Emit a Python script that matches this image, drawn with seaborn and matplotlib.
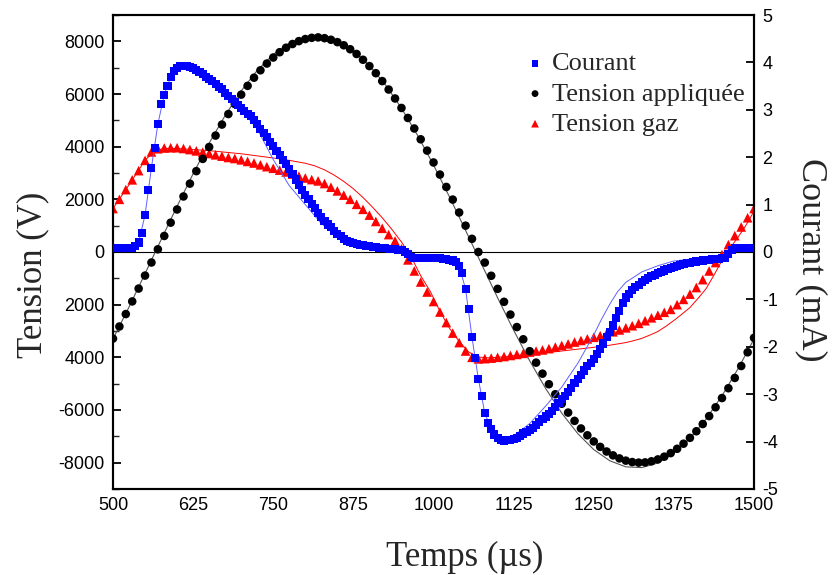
import numpy as np
import pandas as pd
import matplotlib
matplotlib.use("Agg")
import matplotlib.pyplot as plt
import seaborn as sns

# ---------------- data ----------------
# Tension appliquée (V), every 10 µs from 500 to 1500
t_app = list(range(500, 1501, 10))
v_app = [-3290, -2830, -2358, -1877, -1389, -896, -399, 102, 609, 1114,
         1615, 2109, 2596, 3071, 3536, 3987, 4421, 4839, 5239, 5619,
         5976, 6310, 6619, 6901, 7157, 7386, 7587, 7757, 7898, 8008,
         8087, 8134, 8150, 8120, 8060, 7970, 7850, 7700, 7520, 7300,
         7060, 6790, 6490, 6170, 5830, 5470, 5090, 4690, 4280, 3850,
         3400, 2940, 2470, 1990, 1500, 1000, 500, 0, -402, -903,
         -1400, -1892, -2377, -2851, -3315, -3766, -4202, -4621, -5022, -5402,
         -5762, -6099, -6413, -6702, -6961, -7195, -7401, -7577, -7723, -7839,
         -7924, -7978, -7999, -7990, -7949, -7877, -7773, -7638, -7474, -7280,
         -7058, -6808, -6533, -6232, -5898, -5547, -5174, -4783, -4330, -3810,
         -3260]

# Tension gaz (V), every 10 µs
t_gaz = list(range(500, 1501, 10))
v_gaz = [1650, 2000, 2370, 2740, 3090, 3480, 3800, 3920, 3950, 3960,
         3960, 3930, 3890, 3840, 3790, 3740, 3690, 3640, 3590, 3550,
         3500, 3440, 3380, 3310, 3240, 3180, 3110, 3040, 2960, 2880,
         2810, 2750, 2700, 2600, 2460, 2320, 2160, 2000, 1810, 1620,
         1400, 1160, 900, 660, 420, 120, -300, -720, -1140, -1520,
         -1880, -2280, -2680, -3080, -3440, -3760, -4000, -4060, -4050, -4030,
         -4000, -3970, -3930, -3890, -3850, -3800, -3760, -3720, -3670, -3610,
         -3550, -3490, -3420, -3360, -3300, -3240, -3180, -3100, -3030, -2960,
         -2880, -2800, -2710, -2610, -2500, -2400, -2290, -2180, -2000, -1800,
         -1600, -1350, -1050, -720, -400, -100, 280, 620, 950, 1300,
         1650]

# Courant (mA), every 5 µs
t_cour = list(range(500, 1501, 5))
i_cour = [0.08, 0.08, 0.08, 0.08, 0.08, 0.08, 0.09, 0.12, 0.20, 0.40,
          0.78, 1.30, 1.78, 2.20, 2.70, 3.12, 3.32, 3.50, 3.69, 3.82,
          3.89, 3.92, 3.93, 3.93, 3.91, 3.88, 3.84, 3.80, 3.75, 3.70,
          3.65, 3.60, 3.55, 3.49, 3.43, 3.36, 3.30, 3.23, 3.16, 3.10,
          3.04, 2.98, 2.92, 2.86, 2.79, 2.70, 2.60, 2.51, 2.42, 2.33,
          2.24, 2.14, 2.04, 1.95, 1.85, 1.75, 1.64, 1.53, 1.42, 1.31,
          1.21, 1.11, 1.02, 0.93, 0.83, 0.74, 0.65, 0.58, 0.52, 0.45,
          0.38, 0.33, 0.28, 0.24, 0.21, 0.19, 0.17, 0.15, 0.14, 0.13,
          0.12, 0.11, 0.10, 0.09, 0.08, 0.08, 0.07, 0.07, 0.06, 0.05,
          0.04, 0.00, -0.05, -0.10, -0.12, -0.13, -0.13, -0.12, -0.12, -0.12,
          -0.12, -0.12, -0.13, -0.14, -0.15, -0.16, -0.18, -0.21, -0.30, -0.45,
          -0.78, -1.20, -1.80, -2.23, -2.68, -3.03, -3.40, -3.60, -3.73, -3.85,
          -3.93, -3.97, -3.98, -3.97, -3.96, -3.94, -3.92, -3.88, -3.83, -3.79,
          -3.75, -3.71, -3.65, -3.58, -3.52, -3.47, -3.42, -3.36, -3.27, -3.18,
          -3.10, -3.03, -2.96, -2.86, -2.77, -2.68, -2.59, -2.50, -2.40, -2.34,
          -2.25, -2.15, -2.05, -1.93, -1.80, -1.68, -1.55, -1.40, -1.25, -1.08,
          -0.96, -0.88, -0.80, -0.74, -0.69, -0.64, -0.59, -0.55, -0.51, -0.48,
          -0.45, -0.42, -0.39, -0.36, -0.34, -0.32, -0.30, -0.28, -0.26, -0.24,
          -0.23, -0.21, -0.20, -0.19, -0.18, -0.17, -0.16, -0.15, -0.15, -0.14,
          -0.13, -0.12, -0.05, 0.04, 0.08, 0.09, 0.09, 0.09, 0.09, 0.09,
          0.09]

# Thin simulated curves
t_app_fit = list(range(500, 1501, 25))
v_app_fit = [-3304, -2089, -823, 463, 1738, 2971, 4130, 5187, 6117, 6896,
             7505, 7929, 8159, 8187, 8014, 7643, 7084, 6350, 5461, 4436,
             3304, 2089, 823, -463, -1738, -2971, -4130, -5187, -6117, -6896,
             -7505, -7929, -8159, -8187, -8014, -7643, -7084, -6350, -5461, -4436,
             -3304]

t_gaz_fit = [500, 525, 550, 565, 580, 600, 625, 650, 675, 700, 725, 750, 775,
             800, 815, 830, 845, 860, 875, 890, 905, 920, 935, 950, 965, 980,
             995, 1010, 1025, 1040, 1055, 1070, 1085, 1100, 1125, 1150, 1175,
             1200, 1225, 1250, 1275, 1300, 1312, 1325, 1337, 1350, 1362, 1375,
             1387, 1400, 1412, 1425, 1437, 1450, 1462, 1475, 1487, 1500]
v_gaz_fit = [1650, 2550, 3480, 3850, 3930, 3930, 3890, 3850, 3790, 3730, 3650, 3570, 3480,
             3370, 3270, 3120, 2920, 2680, 2400, 2070, 1700, 1300, 860, 380, -180, -900,
             -1500, -2250, -2900, -3400, -3800, -3990, -4020, -4000, -3940, -3890, -3830,
             -3760, -3690, -3620, -3540, -3440, -3370, -3280, -3160, -3020, -2830, -2600,
             -2370, -2110, -1780, -1400, -900, -320, 130, 560, 1000, 1550]

t_cour_fit = [500, 525, 540, 550, 560, 570, 580, 590, 600, 612, 625, 650, 675,
              700, 725, 750, 775, 800, 825, 850, 875, 900, 950, 975, 1000, 1030,
              1040, 1050, 1060, 1070, 1080, 1090, 1100, 1110, 1125, 1150, 1175,
              1200, 1225, 1250, 1262, 1275, 1287, 1300, 1325, 1350, 1375, 1400,
              1425, 1450, 1460, 1470, 1500]
i_cour_fit = [0.08, 0.08, 0.20, 0.78, 1.78, 2.70, 3.32, 3.69, 3.89, 3.93, 3.88, 3.64, 3.34,
              3.00, 2.60, 1.95, 1.40, 1.00, 0.60, 0.32, 0.17, 0.11, 0.04, -0.12, -0.12, -0.18,
              -0.30, -0.78, -1.80, -2.68, -3.40, -3.73, -3.95, -3.98, -3.88, -3.62, -3.25,
              -2.85, -2.35, -1.75, -1.42, -1.10, -0.84, -0.64, -0.42, -0.29, -0.19, -0.15,
              -0.14, -0.12, -0.05, 0.08, 0.09]

x_ticks = [500, 625, 750, 875, 1000, 1125, 1250, 1375, 1500]
left_ticks = [-8000, -6000, -4000, -2000, 0, 2000, 4000, 6000, 8000]
left_tick_labels = ["-8000", "-6000", "4000", "2000", "0", "2000", "4000", "6000", "8000"]
right_ticks = [-5, -4, -3, -2, -1, 0, 1, 2, 3, 4, 5]

# ---------------- plot ----------------
sns.set_style("white")
plt.rcParams["axes.unicode_minus"] = False
sans = "Liberation Sans"
serif = "Liberation Serif"

fig = plt.figure(figsize=(8.32, 5.75), dpi=100)
ax = fig.add_axes([0.1358, 0.1496, 0.7705, 0.8243])
ax2 = ax.twinx()

blue = "#0000FF"
red = "#FF0000"

ax.axhline(0, color="black", lw=0.8, zorder=1)

sns.lineplot(x=t_gaz_fit, y=v_gaz_fit, ax=ax, color=red, lw=0.7, zorder=2)
sns.lineplot(x=t_app_fit, y=v_app_fit, ax=ax, color="#555555", lw=0.8, zorder=2)
sns.scatterplot(x=t_gaz, y=v_gaz, ax=ax, marker="^", s=48, color=red,
                edgecolor="none", linewidth=0, zorder=3, label="Tension gaz")
sns.scatterplot(x=t_app, y=v_app, ax=ax, marker="o", s=38, color="black",
                edgecolor="none", linewidth=0, zorder=4, label="Tension appliquée")

sns.lineplot(x=t_cour_fit, y=i_cour_fit, ax=ax2, color="#6060FF", lw=0.7, zorder=2)
sns.scatterplot(x=t_cour, y=i_cour, ax=ax2, marker="s", s=34, color=blue,
                edgecolor="none", linewidth=0, zorder=3, label="Courant")

ax.set_xlim(500, 1500)
ax.set_ylim(-9000, 9000)
ax2.set_ylim(-5, 5)

ax.set_xticks(x_ticks)
ax.set_xticklabels([str(v) for v in x_ticks])
ax.set_yticks(left_ticks)
ax.set_yticklabels(left_tick_labels)
ax.set_yticks(list(range(-9000, 9001, 1000)), minor=True)
ax2.set_yticks(right_ticks)
ax2.set_yticklabels([str(v) for v in right_ticks])

for a in (ax, ax2):
    for sp in a.spines.values():
        sp.set_visible(True)
        sp.set_color("black")
        sp.set_linewidth(1.5)
ax.tick_params(axis="both", which="major", direction="in", length=6, width=1.3,
               labelsize=13, colors="black", pad=6)
ax.tick_params(axis="y", which="minor", direction="in", length=4, width=1.0, left=True)
ax.tick_params(axis="y", right=False)
ax2.tick_params(axis="y", which="major", direction="in", length=6, width=1.3,
                labelsize=13, colors="black", pad=6, right=True)
for lab in ax.get_xticklabels() + ax.get_yticklabels() + ax2.get_yticklabels():
    lab.set_fontfamily(sans)

ax.set_xlabel("Temps (µs)", fontfamily=serif, fontsize=25)
ax.xaxis.set_label_coords(0.548, -0.11)
ax.set_ylabel("Tension (V)", fontfamily=serif, fontsize=25, rotation=90,
              va="bottom", rotation_mode="anchor")
ax.yaxis.set_label_coords(-0.100, 0.451)
ax2.set_ylabel("Courant (mA)", fontfamily=serif, fontsize=26, rotation=270,
               va="bottom", rotation_mode="anchor")
ax2.yaxis.set_label_coords(1.064, 0.483)

h1, l1 = ax.get_legend_handles_labels()
h2, l2 = ax2.get_legend_handles_labels()
if ax.get_legend():
    ax.get_legend().remove()
hmap = dict(zip(l1 + l2, h1 + h2))
order = ["Courant", "Tension appliquée", "Tension gaz"]
leg = ax2.legend([hmap[k] for k in order], order, loc="upper left",
                 bbox_to_anchor=(0.646, 0.922), frameon=False,
                 prop={"family": serif, "size": 19}, handletextpad=0.35,
                 handlelength=0.6, labelspacing=0.25, markerscale=0.8,
                 borderaxespad=0, borderpad=0)

fig.savefig("out.png", dpi=100)
